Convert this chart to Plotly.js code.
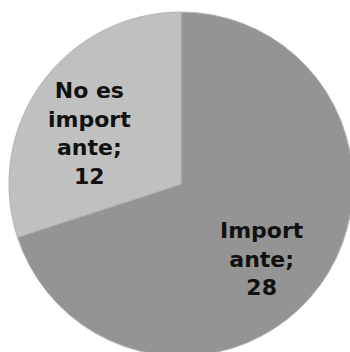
<!DOCTYPE html>
<html>
<head>
<meta charset="utf-8">
<script src="https://cdn.plot.ly/plotly-3.0.1.min.js"></script>
<style>
html, body { margin: 0; padding: 0; overflow: hidden; background: #ffffff; }
#chart { width: 362px; height: 368px; }
</style>
</head>
<body>
<div id="chart"></div>
<script>
// Data
var categories = ["Importante", "No es importante"];
var wrappedLabels = ["Import<br>ante;", "No es<br>import<br>ante;"];
var values = [28, 12];
var sliceColors = ["#949494", "#c0c0c0"];

var trace = {
  type: "pie",
  labels: categories,
  values: values,
  sort: false,
  direction: "clockwise",
  rotation: 0,
  marker: { colors: sliceColors, line: { color: "#b4b4b4", width: 1 } },
  textinfo: "none",
  hoverinfo: "none",
  showlegend: false
};

// Data labels placed along each slice's mid-angle (computed from the values)
var labelRadius = 0.62; // fraction of pie radius
var total = values.reduce(function (a, b) { return a + b; }, 0);
var annotations = [];
var cum = 0;
for (var i = 0; i < values.length; i++) {
  var mid = (cum + values[i] / 2) / total * 2 * Math.PI; // clockwise from 12 o'clock
  cum += values[i];
  annotations.push({
    xref: "paper", yref: "paper",
    x: 0.5 + 0.5 * labelRadius * Math.sin(mid),
    y: 0.5 + 0.5 * labelRadius * Math.cos(mid),
    xanchor: "center", yanchor: "middle",
    xshift: -5, yshift: -12,
    showarrow: false,
    align: "center",
    text: wrappedLabels[i] + "<br>" + values[i],
    font: { family: "DejaVu Sans", size: 22, color: "#111111", weight: "bold" }
  });
}

var layout = {
  width: 362,
  height: 368,
  margin: { l: 9, r: 9, t: 12, b: 12, pad: 0 },
  paper_bgcolor: "#ffffff",
  showlegend: false,
  annotations: annotations
};

Plotly.newPlot("chart", [trace], layout, { displayModeBar: false, staticPlot: true });
</script>
</body>
</html>
